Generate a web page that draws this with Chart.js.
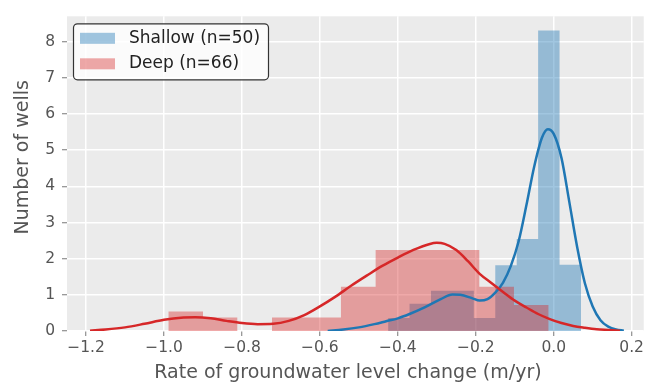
<!DOCTYPE html>
<html>
<head>
<meta charset="utf-8">
<script src="https://cdn.jsdelivr.net/npm/chart.js@4.4.1/dist/chart.umd.min.js"></script>
<style>
  html, body { margin: 0; padding: 0; background: #ffffff; }
</style>
</head>
<body>
<canvas id="chart" width="647" height="384"></canvas>
<script>
// Histogram bin edges (m/yr) and bar heights (density) for each well group
const shallowEdges   = [-0.425, -0.370, -0.315, -0.260, -0.205, -0.150, -0.095, -0.040, 0.015, 0.070];
const shallowHeights = [0.36, 0.75, 1.11, 1.11, 0.36, 1.82, 2.54, 8.31, 1.83];
const deepEdges   = [-0.989, -0.900, -0.812, -0.723, -0.634, -0.546, -0.457, -0.368, -0.279, -0.191, -0.102, -0.013];
const deepHeights = [0.54, 0.37, 0.00, 0.37, 0.37, 1.22, 2.24, 2.24, 2.24, 1.22, 0.72];

// Kernel density curves
const shallowKdeX = [-0.58, -0.54, -0.50, -0.46, -0.43, -0.40, -0.37, -0.33, -0.29, -0.26, -0.24, -0.21, -0.19, -0.17,
                     -0.15, -0.13, -0.11, -0.09, -0.07, -0.05, -0.03, -0.015, 0.00, 0.02, 0.04, 0.06, 0.08,
                     0.10, 0.12, 0.14, 0.16, 0.18];
const shallowKdeY = [0.00, 0.04, 0.10, 0.19, 0.27, 0.35, 0.47, 0.66, 0.88, 1.01, 1.00, 0.91, 0.84, 0.88,
                     1.06, 1.34, 1.80, 2.48, 3.48, 4.55, 5.35, 5.58, 5.45, 4.78, 3.57, 2.33, 1.32,
                     0.68, 0.30, 0.12, 0.04, 0.01];
const deepKdeX = [-1.19, -1.15, -1.10, -1.05, -1.00, -0.95, -0.92, -0.88, -0.84, -0.80, -0.76, -0.72, -0.68, -0.64,
                  -0.60, -0.56, -0.52, -0.48, -0.44, -0.40, -0.36, -0.32, -0.30, -0.28, -0.25, -0.22, -0.19, -0.16,
                  -0.13, -0.10, -0.07, -0.04, -0.01, 0.02, 0.05, 0.08, 0.11, 0.14, 0.17];
const deepKdeY = [0.01, 0.04, 0.10, 0.20, 0.31, 0.37, 0.38, 0.35, 0.28, 0.22, 0.19, 0.20, 0.28, 0.44,
                  0.68, 0.95, 1.25, 1.53, 1.80, 2.03, 2.24, 2.40, 2.44, 2.41, 2.24, 1.93, 1.58, 1.33,
                  1.08, 0.84, 0.65, 0.47, 0.33, 0.22, 0.14, 0.09, 0.05, 0.03, 0.01];

// Axis ticks
const xTicks = [-1.2, -1.0, -0.8, -0.6, -0.4, -0.2, 0.0, 0.2];
const yTicks = [0, 1, 2, 3, 4, 5, 6, 7, 8];

const seriesLabels = ['Shallow (n=50)', 'Deep (n=66)'];
const xTitle = 'Rate of groundwater level change (m/yr)';
const yTitle = 'Number of wells';

const BLUE = '#1f77b4';
const RED = '#d62728';
const BLUE_FILL = 'rgba(31,119,180,0.42)';
const RED_FILL = 'rgba(214,39,40,0.4)';
const FONT = '"DejaVu Sans", "Liberation Sans", sans-serif';
const TEXT_GREY = '#555555';

// Step outline of a histogram: one point per left bin edge, closing at the last right edge
function histPoints(edges, heights) {
  const pts = heights.map((h, i) => ({ x: edges[i], y: h }));
  pts.push({ x: edges[edges.length - 1], y: heights[heights.length - 1] });
  return pts;
}
function curvePoints(xs, ys) {
  return xs.map((x, i) => ({ x: x, y: ys[i] }));
}

// Grey panel behind the axes
const panelBackground = {
  id: 'panelBackground',
  beforeDraw(chart) {
    const { ctx, chartArea: a } = chart;
    ctx.save();
    ctx.fillStyle = '#ebebeb';
    ctx.fillRect(a.left, a.top, a.right - a.left, a.bottom - a.top);
    ctx.restore();
  }
};

// Axis titles
const axisTitles = {
  id: 'axisTitles',
  afterDraw(chart) {
    const { ctx, chartArea: a } = chart;
    ctx.save();
    ctx.fillStyle = TEXT_GREY;
    ctx.font = '19px ' + FONT;
    ctx.textAlign = 'center';
    ctx.textBaseline = 'alphabetic';
    ctx.fillText(xTitle, a.left + 281, 378);
    ctx.translate(28, a.top + 141);
    ctx.rotate(-Math.PI / 2);
    ctx.fillText(yTitle, 0, 0);
    ctx.restore();
  }
};

// Framed legend in the upper-left corner of the panel
const framedLegend = {
  id: 'framedLegend',
  afterDatasetsDraw(chart) {
    const { ctx, chartArea: a } = chart;
    const items = chart.data.datasets.filter(d => d.inLegend);
    const x = a.left + 6.5, y = a.top + 7.5, w = 195, h = 56;
    ctx.save();
    ctx.beginPath();
    ctx.roundRect(x, y, w, h, 4);
    ctx.fillStyle = 'rgba(255,255,255,0.8)';
    ctx.fill();
    ctx.lineWidth = 1.2;
    ctx.strokeStyle = '#333333';
    ctx.stroke();
    ctx.font = '17px ' + FONT;
    ctx.textBaseline = 'middle';
    ctx.textAlign = 'left';
    items.forEach((d, i) => {
      const cy = y + 14.5 + i * 25.5;
      ctx.fillStyle = d.backgroundColor;
      ctx.fillRect(x + 6.5, cy - 5.5, 35, 11);
      ctx.fillStyle = '#222222';
      ctx.fillText(d.label, x + 55.5, cy);
    });
    ctx.restore();
  }
};

const histStyle = {
  type: 'line',
  stepped: 'before',
  fill: 'origin',
  borderWidth: 0,
  pointRadius: 0,
  order: 5
};
const kdeStyle = {
  type: 'line',
  fill: false,
  borderWidth: 2.5,
  pointRadius: 0,
  cubicInterpolationMode: 'monotone',
  order: 1
};

new Chart(document.getElementById('chart'), {
  type: 'line',
  data: {
    datasets: [
      Object.assign({}, histStyle, {
        label: seriesLabels[0], inLegend: true,
        data: histPoints(shallowEdges, shallowHeights),
        backgroundColor: BLUE_FILL, borderColor: 'rgba(0,0,0,0)', order: 6
      }),
      Object.assign({}, histStyle, {
        label: seriesLabels[1], inLegend: true,
        data: histPoints(deepEdges, deepHeights),
        backgroundColor: RED_FILL, borderColor: 'rgba(0,0,0,0)', order: 5
      }),
      Object.assign({}, kdeStyle, {
        label: seriesLabels[0] + ' KDE',
        data: curvePoints(shallowKdeX, shallowKdeY),
        borderColor: BLUE, order: 2
      }),
      Object.assign({}, kdeStyle, {
        label: seriesLabels[1] + ' KDE',
        data: curvePoints(deepKdeX, deepKdeY),
        borderColor: RED, order: 1
      })
    ]
  },
  options: {
    responsive: false,
    animation: false,
    devicePixelRatio: 1,
    layout: { padding: { left: 0, top: 10, right: 1, bottom: 0 } },
    plugins: {
      legend: { display: false },
      tooltip: { enabled: false }
    },
    scales: {
      x: {
        type: 'linear',
        min: -1.249,
        max: 0.231,
        afterBuildTicks: s => { s.ticks = xTicks.map(v => ({ value: v })); },
        afterFit: s => { s.height = 53; },
        border: { display: false },
        grid: { color: '#ffffff', lineWidth: 1.5, tickColor: '#777777', tickLength: 5, tickWidth: 1 },
        ticks: {
          color: TEXT_GREY,
          font: { family: FONT, size: 15.5 },
          padding: 3,
          maxRotation: 0,
          callback: v => (v < -1e-9 ? '\u2212' : '') + Math.abs(v).toFixed(1)
        },
        title: { display: false }
      },
      y: {
        type: 'linear',
        min: 0,
        max: 8.7,
        afterBuildTicks: s => { s.ticks = yTicks.map(v => ({ value: v })); },
        afterFit: s => { s.width = 67; },
        border: { display: false },
        grid: { color: '#ffffff', lineWidth: 1.5, tickColor: '#777777', tickLength: 5, tickWidth: 1 },
        ticks: {
          color: TEXT_GREY,
          font: { family: FONT, size: 15.5 },
          padding: 7,
          callback: v => String(v)
        },
        title: { display: false }
      }
    }
  },
  plugins: [panelBackground, framedLegend, axisTitles]
});
</script>
</body>
</html>
